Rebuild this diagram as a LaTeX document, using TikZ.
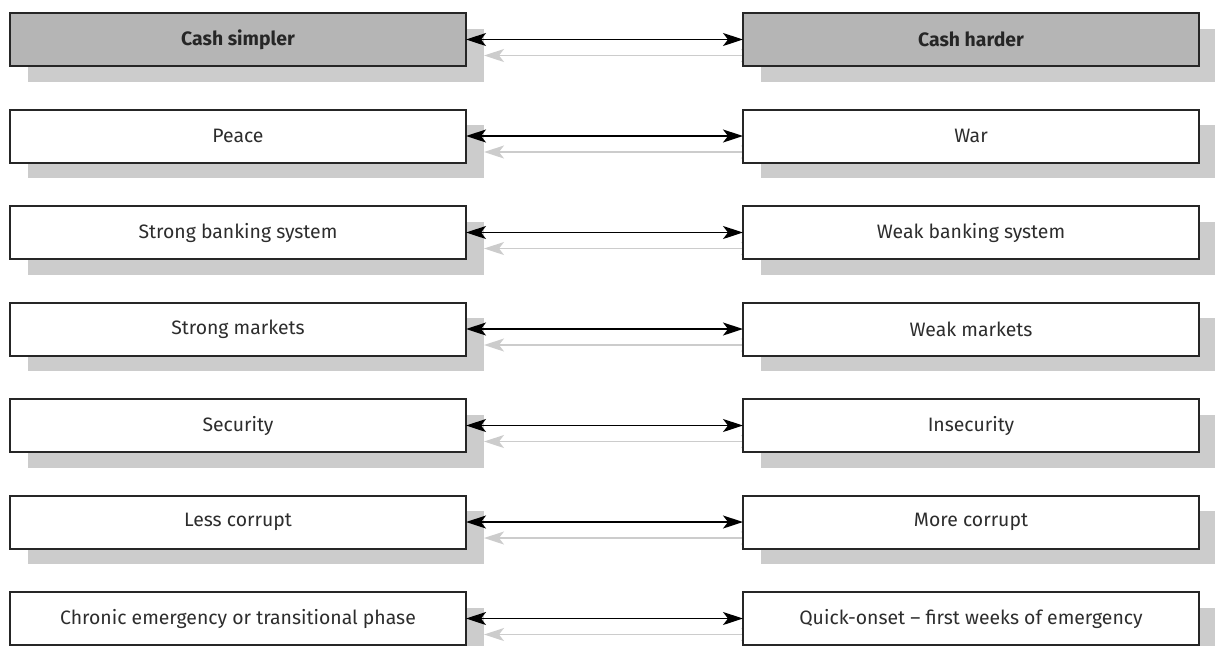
\documentclass[tikz,border=0pt]{standalone}
\usepackage{fontspec}
\setmainfont{Fira Sans}
\usetikzlibrary{positioning, arrows.meta, shadows, backgrounds}

\definecolor{headgray}{RGB}{181,181,181}
\definecolor{shadegray}{RGB}{204,204,204}
\definecolor{textgray}{RGB}{45,45,45}

\tikzset{
  box/.style={draw=black!85, line width=1pt, fill=white, text=textgray,
    minimum width=228pt, minimum height=26.5pt, inner sep=0pt, outer sep=0pt,
    font=\fontsize{9.7}{11}\selectfont,
    drop shadow={shadow xshift=9pt, shadow yshift=-7.75pt, opacity=1, fill=shadegray}},
  headbox/.style={box, fill=headgray, text=black!85, font=\fontsize{9.7}{11}\selectfont\bfseries},
  link/.style={arrows={Stealth[length=10pt,width=6.5pt,inset=2.5pt]-Stealth[length=10pt,width=6.5pt,inset=2.5pt]}, line width=0.8pt},
  linkshade/.style={link, draw=shadegray, fill=shadegray, transform canvas={shift={(9pt,-8pt)}}},
}

\begin{document}
\begin{tikzpicture}[node distance=21.75pt and 138.5pt]
  \useasboundingbox (0,0) rectangle (607.5pt,-322.5pt);
  % left column: cash simpler
  \node[headbox] (simpler) at (119pt,-19.75pt) {Cash simpler};
  \node[box] (peace) [below=of simpler] {Peace};
  \node[box] (strongbank) [below=of peace] {Strong banking system};
  \node[box] (strongmkt) [below=of strongbank] {Strong markets};
  \node[box] (security) [below=of strongmkt] {Security};
  \node[box] (lesscorrupt) [below=of security] {Less corrupt};
  \node[box] (chronic) [below=of lesscorrupt] {Chronic emergency or transitional phase};
  % right column: cash harder
  \node[headbox] (harder) [right=of simpler] {Cash harder};
  \node[box] (war) [right=of peace] {War};
  \node[box] (weakbank) [right=of strongbank] {Weak banking system};
  \node[box] (weakmkt) [right=of strongmkt] {Weak markets};
  \node[box] (insecurity) [right=of security] {Insecurity};
  \node[box] (morecorrupt) [right=of lesscorrupt] {More corrupt};
  \node[box] (quick) [right=of chronic] {Quick-onset -- first weeks of emergency};
  % arrows, their shadows go behind the boxes
  \begin{scope}[on background layer]
    \foreach \a/\b in {simpler/harder, peace/war, strongbank/weakbank,
        strongmkt/weakmkt, security/insecurity, lesscorrupt/morecorrupt, chronic/quick}
      \draw[linkshade] (\a.east) -- (\b.west);
  \end{scope}
  \foreach \a/\b in {simpler/harder, peace/war, strongbank/weakbank,
      strongmkt/weakmkt, security/insecurity, lesscorrupt/morecorrupt, chronic/quick}
    \draw[link] (\a.east) -- (\b.west);
\end{tikzpicture}
\end{document}
